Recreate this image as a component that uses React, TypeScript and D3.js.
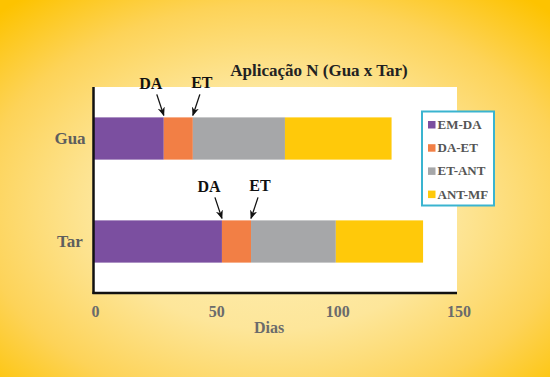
import React from "react";
import * as d3 from "d3";

const categories = ["Gua", "Tar"];
const seriesNames = ["EM-DA", "DA-ET", "ET-ANT", "ANT-MF"];
const emDa = [29, 53];
const daEt = [12, 12];
const etAnt = [38, 35];
const antMf = [44, 36];
const xTicks = [0, 50, 100, 150];
const colors = ["#7b4fa0", "#f27f45", "#a6a7a9", "#ffc90a"];

const W = 550, H = 377;
const plot = { left: 93.5, right: 457, top: 87, bottom: 293 };

export default function App() {
  const x = d3.scaleLinear().domain([0, 150]).range([plot.left, plot.right]);
  const y = d3.scaleBand<string>().domain(categories).range([plot.top, plot.bottom]).paddingInner(0.59).paddingOuter(0.295);
  const rows = categories.map((c, i) => ({ cat: c, emDa: emDa[i], daEt: daEt[i], etAnt: etAnt[i], antMf: antMf[i] }));
  const stack = d3.stack<any>().keys(["emDa", "daEt", "etAnt", "antMf"])(rows);
  const ts = { fontFamily: '"Liberation Serif"' };

  const arrows: any[] = [];
  categories.forEach((c, i) => {
    const b1 = x(emDa[i]);
    const b2 = x(emDa[i] + daEt[i]);
    const top = y(c)!;
    arrows.push({ label: "DA", lx: b1 - 13, ly: top - 28, x1: b1 - 7, y1: top - 23, x2: b1, y2: top - 2 });
    arrows.push({ label: "ET", lx: b2 + 9, ly: top - 29, x1: b2 + 7, y1: top - 23, x2: b2, y2: top - 2 });
  });

  return (
    <svg width={W} height={H} style={{ position: "absolute", left: 0, top: 0 }}>
      <defs>
        <radialGradient id="bg" cx="50%" cy="55%" r="72%">
          <stop offset="0%" stopColor="#fef0b8" />
          <stop offset="45%" stopColor="#fde69a" />
          <stop offset="75%" stopColor="#fdd358" />
          <stop offset="100%" stopColor="#fdc300" />
        </radialGradient>
        <marker id="ah" viewBox="0 0 10 10" refX="9" refY="5" markerWidth="7" markerHeight="7" orient="auto">
          <path d="M0,1 L10,5 L0,9 L3,5 Z" fill="#111" />
        </marker>
      </defs>
      <rect x={0} y={0} width={W} height={H} fill="url(#bg)" />
      <rect x={plot.left} y={plot.top} width={plot.right - plot.left} height={plot.bottom - plot.top} fill="#ffffff" />
      {stack.map((s, si) => (
        <g key={si} fill={colors[si]}>
          {s.map((d: any, i: number) => (
            <rect key={i} x={x(d[0])} y={y(d.data.cat)} width={x(d[1]) - x(d[0])} height={y.bandwidth()} />
          ))}
        </g>
      ))}
      <line x1={plot.left} x2={plot.left} y1={plot.top} y2={plot.bottom + 1} stroke="#111" strokeWidth={2.5} />
      <line x1={plot.left - 1} x2={plot.right} y1={plot.bottom} y2={plot.bottom} stroke="#111" strokeWidth={2.5} />
      {xTicks.map((t) => (
        <text key={t} x={x(t) + 2} y={317} textAnchor="middle" fontSize={16} fontWeight="bold" fill="#6b6b6b" style={ts}>{t}</text>
      ))}
      <text x={269} y={333} textAnchor="middle" fontSize={16} fontWeight="bold" fill="#6b6b6b" style={ts}>Dias</text>
      {categories.map((c) => (
        <text key={c} x={70} y={y(c)! + y.bandwidth() / 2 + 5.5} textAnchor="middle" fontSize={17} fontWeight="bold" fill="#5e5e5e" style={ts}>{c}</text>
      ))}
      <text x={319} y={76} textAnchor="middle" fontSize={17} fontWeight="bold" fill="#222" style={ts}>Aplicação N (Gua x Tar)</text>
      {arrows.map((a, i) => (
        <g key={i}>
          <text x={a.lx} y={a.ly} textAnchor="middle" fontSize={16} fontWeight="bold" fill="#111" style={ts}>{a.label}</text>
          <line x1={a.x1} y1={a.y1} x2={a.x2} y2={a.y2} stroke="#111" strokeWidth={1.3} markerEnd="url(#ah)" />
        </g>
      ))}
      <g>
        <rect x={422} y={111.5} width={72} height={94} fill="#ffffff" stroke="#3ab4d0" strokeWidth={2} />
        {seriesNames.map((n, i) => (
          <g key={n} transform={`translate(428,${124.5 + i * 23.2})`}>
            <rect x={0} y={-3.5} width={7.5} height={7.5} fill={colors[i]} />
            <text x={9.5} y={4.5} fontSize={13} fontWeight="bold" fill="#555" style={ts}>{n}</text>
          </g>
        ))}
      </g>
    </svg>
  );
}
